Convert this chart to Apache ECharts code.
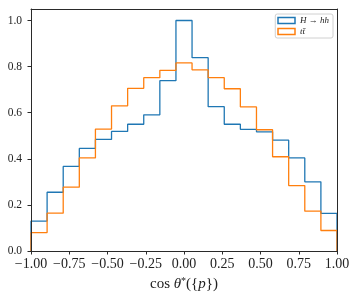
<!DOCTYPE html>
<html>
<head>
<meta charset="utf-8">
<script src="https://cdn.jsdelivr.net/npm/echarts@6/dist/echarts.min.js"></script>
<style>
html,body{margin:0;padding:0;background:#fff;}
#chart{width:359px;height:299px;}
</style>
</head>
<body>
<div id="chart"></div>
<script>
// ---- data ----
const seriesNames = ['H → hh', 'tt\u0304'];
const xRange = [-1, 1];
// 19 equal-width bins over [-1, 1]
const valuesHhh = [0.130, 0.255, 0.367, 0.445, 0.484, 0.519, 0.550, 0.591, 0.739, 1.000,
                   0.839, 0.626, 0.550, 0.528, 0.517, 0.481, 0.404, 0.300, 0.163];
const valuesTT  = [0.080, 0.164, 0.277, 0.404, 0.529, 0.630, 0.706, 0.752, 0.784, 0.816,
                   0.786, 0.752, 0.704, 0.625, 0.526, 0.409, 0.284, 0.173, 0.089];
const xTickValues = [-1, -0.75, -0.5, -0.25, 0, 0.25, 0.5, 0.75, 1];
const yTickValues = [0, 0.2, 0.4, 0.6, 0.8, 1.0];
const yMax = 1.05;

function stepPoints(vals) {
  const n = vals.length, lo = xRange[0], hi = xRange[1];
  const w = (hi - lo) / n;
  const pts = [[lo, 0]];
  vals.forEach((v, i) => { pts.push([lo + i * w, v], [lo + (i + 1) * w, v]); });
  pts.push([hi, 0]);
  return pts;
}
function fmtX(v) {
  const s = Math.abs(v).toFixed(2);
  return (v < -1e-9 ? '\u2212' : '') + s;
}

const serif = '"Liberation Serif", "DejaVu Serif", serif';
const spine = '#2a2a2a';

const chart = echarts.init(document.getElementById('chart'), null, {renderer: 'canvas'});
chart.setOption({
  animation: false,
  backgroundColor: '#fff',
  grid: {left: 31, right: 22, top: 9, bottom: 48, containLabel: false},
  legend: {
    top: 14, right: 26,
    orient: 'vertical',
    backgroundColor: '#fff',
    borderColor: '#d0d0d0', borderWidth: 1, borderRadius: 2,
    padding: [2, 4, 2, 2],
    itemGap: 2,
    itemWidth: 17, itemHeight: 6,
    icon: 'rect',
    textStyle: {fontFamily: serif, fontStyle: 'italic', fontSize: 9, lineHeight: 9, color: '#222'},
    data: [
      {name: seriesNames[0], itemStyle: {color: '#fff', borderColor: '#1f77b4', borderWidth: 1.5}},
      {name: seriesNames[1], itemStyle: {color: '#fff', borderColor: '#ff7f0e', borderWidth: 1.5}}
    ]
  },
  xAxis: [{
    type: 'value', min: xRange[0], max: xRange[1], interval: 0.25,
    position: 'bottom', z: 10,
    axisLine: {show: true, onZero: false, lineStyle: {color: spine, width: 1}},
    axisTick: {show: true, length: 3.5, lineStyle: {color: spine}},
    splitLine: {show: false},
    axisLabel: {fontFamily: serif, fontSize: 14, color: '#222', margin: 6, formatter: fmtX,
                customValues: xTickValues},
    name: '{n|cos }{i|θ}{s|*}({{i|p}})',
    nameLocation: 'middle', nameGap: 22,
    nameTextStyle: {
      fontFamily: serif, fontSize: 15, color: '#222',
      rich: {
        n: {fontFamily: serif, fontSize: 15, color: '#222'},
        i: {fontFamily: serif, fontSize: 15, fontStyle: 'italic', color: '#222'},
        s: {fontFamily: serif, fontSize: 10, color: '#222', padding: [0, 0, 7, 0]}
      }
    }
  }, {
    type: 'value', min: xRange[0], max: xRange[1], position: 'top', z: 10,
    axisLine: {show: true, onZero: false, lineStyle: {color: spine, width: 1}},
    axisTick: {show: false}, axisLabel: {show: false}, splitLine: {show: false}
  }],
  yAxis: [{
    type: 'value', min: 0, max: yMax, interval: 0.2, z: 10,
    axisLine: {show: true, onZero: false, lineStyle: {color: spine, width: 1}},
    axisTick: {show: true, length: 3.5, lineStyle: {color: spine}, customValues: yTickValues},
    splitLine: {show: false},
    axisLabel: {fontFamily: serif, fontSize: 11.5, color: '#222', margin: 9,
                formatter: v => v.toFixed(1), customValues: yTickValues}
  }, {
    type: 'value', min: 0, max: yMax, position: 'right', z: 10,
    axisLine: {show: true, onZero: false, lineStyle: {color: spine, width: 1}},
    axisTick: {show: false}, axisLabel: {show: false}, splitLine: {show: false}
  }],
  series: [{
    name: seriesNames[0], type: 'line', xAxisIndex: 0, yAxisIndex: 0,
    data: stepPoints(valuesHhh), showSymbol: false, symbol: 'none',
    lineStyle: {color: '#1f77b4', width: 1.3}, itemStyle: {color: '#1f77b4'}, z: 2
  }, {
    name: seriesNames[1], type: 'line', xAxisIndex: 0, yAxisIndex: 0,
    data: stepPoints(valuesTT), showSymbol: false, symbol: 'none',
    lineStyle: {color: '#ff7f0e', width: 1.3}, itemStyle: {color: '#ff7f0e'}, z: 3
  }]
});
</script>
</body>
</html>
